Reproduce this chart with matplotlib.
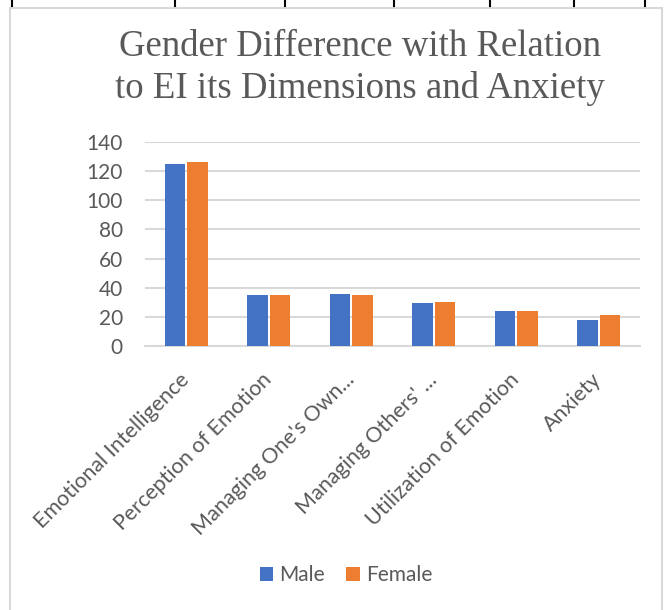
import matplotlib.pyplot as plt
import numpy as np
from matplotlib.lines import Line2D
from matplotlib.patches import Rectangle

categories = ['Emotional Intelligence', 'Perception of Emotion', "Managing One's Own...",
              "Managing Others' ...", 'Utilization of Emotion', 'Anxiety']
male = [125, 35, 36, 29.5, 24, 18]
female = [126, 35, 35, 30, 24, 21.5]
yticks = [0, 20, 40, 60, 80, 100, 120, 140]

grey = '#595959'

fig = plt.figure(figsize=(6.7, 6.1), dpi=100)
W, H = 670, 610

# chart frame
fig.patches.append(Rectangle((10 / W, -0.01), 652 / W, 1 - 8 / H + 0.01, transform=fig.transFigure,
                             fill=False, edgecolor='#d9d9d9', linewidth=1.5))
# table cell marks along top edge
for xp in [12, 175, 285, 394, 490, 574, 645]:
    fig.add_artist(Line2D([xp / W, xp / W], [1, 1 - 6 / H], transform=fig.transFigure,
                          color='black', linewidth=1.5))

ax = fig.add_axes([145 / W, 1 - 346 / H, 495 / W, 204 / H])
x = np.arange(len(categories))
w = 0.245
ax.bar(x - 0.137, male, w, color='#4472C4', label='Male', zorder=3)
ax.bar(x + 0.137, female, w, color='#ED7D31', label='Female', zorder=3)

ax.set_xlim(-0.5, len(categories) - 0.5)
ax.set_ylim(0, 140)
ax.set_yticks(yticks)
ax.yaxis.grid(True, color='#d9d9d9', linewidth=1.5, zorder=0)
ax.set_axisbelow(True)
for s in ['top', 'right', 'left']:
    ax.spines[s].set_visible(False)
ax.spines['bottom'].set_color('#d9d9d9')
ax.spines['bottom'].set_linewidth(1.5)
ax.tick_params(length=0, labelcolor=grey)
ax.tick_params(axis='y', pad=16, labelsize=15)
for t in ax.get_yticklabels():
    t.set_family('Lato')
ax.set_xticks(x)
ax.set_xticklabels(categories, rotation=45, ha='right', va='center', rotation_mode='anchor',
                   fontsize=15.5, family='Lato', color=grey)
ax.tick_params(axis='x', pad=22)

fig.text(0.5 + 25 / W, 1 - 47 / H, 'Gender Difference with Relation', ha='center', va='center',
         fontsize=26.5, family='Liberation Serif', color=grey)
fig.text(0.5 + 25 / W, 1 - 89 / H, 'to EI its Dimensions and Anxiety', ha='center', va='center',
         fontsize=26.5, family='Liberation Serif', color=grey)

fig.legend(loc='center', bbox_to_anchor=(346 / W, 1 - 575 / H), ncol=2, frameon=False,
           prop={'family': 'Lato', 'size': 15}, labelcolor=grey, handlelength=0.65,
           handleheight=0.65, handletextpad=0.3, columnspacing=1.0)

fig.savefig('out.png', dpi=100)
